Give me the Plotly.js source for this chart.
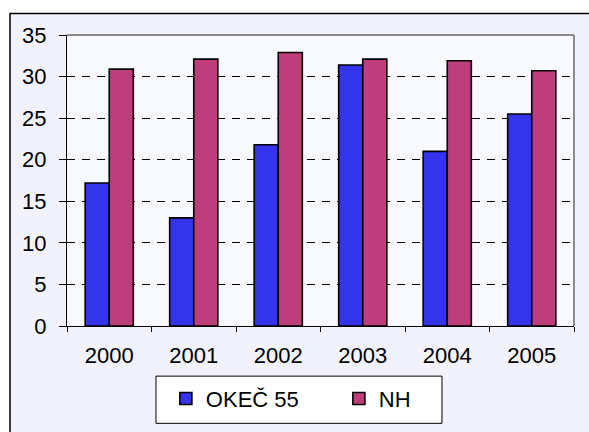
<!DOCTYPE html>
<html>
<head>
<meta charset="utf-8">
<script src="https://cdn.plot.ly/plotly-3.0.1.min.js"></script>
<style>html,body{margin:0;padding:0;background:#fff}#chart{width:589px;height:432px}</style>
</head>
<body>
<div id="chart"></div>
<script>
var years = ['2000', '2001', '2002', '2003', '2004', '2005'];
var okec55 = [17.2, 13.0, 21.8, 31.4, 21.0, 25.5];
var nh = [30.9, 32.1, 32.9, 32.1, 31.9, 30.7];
var yTicks = [0, 5, 10, 15, 20, 25, 30, 35];

var FONT = '"Liberation Sans", Arial, sans-serif';

var traces = [
  {type: 'bar', name: 'OKEČ 55', x: years, y: okec55,
   marker: {color: '#3434EC', line: {color: '#000', width: 1.6}}},
  {type: 'bar', name: 'NH', x: years, y: nh,
   marker: {color: '#BE3D7B', line: {color: '#000', width: 1.6}}}
];

var layout = {
  width: 589, height: 432,
  margin: {l: 67, r: 15, t: 35, b: 101},
  paper_bgcolor: '#ffffff',
  plot_bgcolor: 'rgba(0,0,0,0)',
  font: {family: FONT, size: 22, color: '#000'},
  barmode: 'group', bargap: 0.43, bargroupgap: 0,
  showlegend: true,
  legend: {orientation: 'h', x: 0.195, xanchor: 'left', y: -0.25, yanchor: 'middle',
           bgcolor: 'rgba(0,0,0,0)', borderwidth: 0, entrywidth: 128,
           font: {family: FONT, size: 22, color: '#000'}},
  xaxis: {type: 'category', showgrid: false, showline: true, linecolor: '#000', linewidth: 1,
          ticks: 'outside', tickson: 'boundaries', ticklen: 5, tickcolor: '#000',
          ticklabelstandoff: 10,
          tickfont: {family: FONT, size: 22}, zeroline: false},
  yaxis: {range: [0, 35], tickvals: yTicks, showgrid: true, gridcolor: '#000', gridwidth: 1,
          griddash: '8px,7px', showline: true, linecolor: '#000', linewidth: 1,
          ticks: 'outside', ticklen: 7, tickcolor: '#000', zeroline: false,
          ticklabelstandoff: 8,
          tickfont: {family: FONT, size: 22}},
  shapes: [
    {type: 'rect', xref: 'paper', yref: 'paper', x0: -0.1124, x1: 2, y0: -1, y1: 1.0743,
     fillcolor: '#F2F2FC', line: {color: '#000', width: 1.5}, layer: 'below'},
    {type: 'rect', xref: 'paper', yref: 'paper', x0: 0, x1: 1, y0: 0, y1: 1,
     fillcolor: '#F8F8FF', line: {width: 0}, layer: 'below'},
    {type: 'rect', xref: 'paper', yref: 'paper', x0: 0.1755, x1: 0.7396, y0: -0.3345, y1: -0.1723,
     fillcolor: '#ffffff', line: {color: '#000', width: 1}, layer: 'below'},
    {type: 'line', xref: 'paper', yref: 'paper', x0: 0, x1: 1, y0: 1, y1: 1,
     line: {color: '#8C8C8C', width: 2}, layer: 'above'},
    {type: 'line', xref: 'paper', yref: 'paper', x0: 1, x1: 1, y0: 0, y1: 1,
     line: {color: '#8C8C8C', width: 2}, layer: 'above'}
  ]
};

Plotly.newPlot('chart', traces, layout, {displayModeBar: false, staticPlot: true});
</script>
</body>
</html>
